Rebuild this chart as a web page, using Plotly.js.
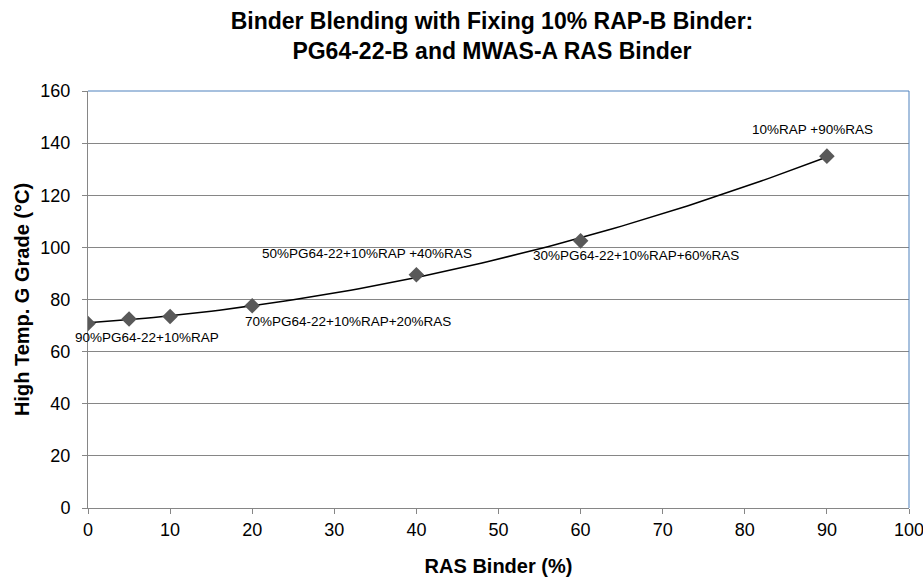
<!DOCTYPE html>
<html><head><meta charset="utf-8">
<script src="https://cdn.plot.ly/plotly-3.0.1.min.js"></script>
<style>html,body{margin:0;padding:0;background:#fff}#c{width:923px;height:581px}</style>
</head><body><div id="c"></div>
<script>
const rasBinder = [0, 5, 10, 20, 40, 60, 90];
const highTempGrade = [70.8, 72.5, 73.5, 77.6, 89.5, 102.5, 135.0];
const labelText = ["90%PG64-22+10%RAP", "70%PG64-22+10%RAP+20%RAS", "50%PG64-22+10%RAP +40%RAS", "30%PG64-22+10%RAP+60%RAS", "10%RAP +90%RAS"];
const labelX = [7.2, 31.7, 34.0, 66.7, 88.2];
const labelY = [65.6, 71.4, 97.5, 96.7, 145.4];
const xTicks = [0,10,20,30,40,50,60,70,80,90,100];
const yTicks = [0,20,40,60,80,100,120,140,160];

// quadratic least-squares trendline from the data
function polyfit2(xs, ys){
  let S=[0,0,0,0,0], T=[0,0,0];
  for(let i=0;i<xs.length;i++){let p=1;for(let k=0;k<5;k++){S[k]+=p;if(k<3)T[k]+=p*ys[i];p*=xs[i];}}
  const A=[[S[0],S[1],S[2],T[0]],[S[1],S[2],S[3],T[1]],[S[2],S[3],S[4],T[2]]];
  for(let i=0;i<3;i++){for(let j=i+1;j<3;j++){const f=A[j][i]/A[i][i];for(let k=i;k<4;k++)A[j][k]-=f*A[i][k];}}
  const c=[0,0,0];
  for(let i=2;i>=0;i--){let s=A[i][3];for(let k=i+1;k<3;k++)s-=A[i][k]*c[k];c[i]=s/A[i][i];}
  return c;
}
const coef = polyfit2(rasBinder, highTempGrade);
const tx=[], ty=[];
for(let i=0;i<=90;i++){tx.push(i);ty.push(coef[0]+coef[1]*i+coef[2]*i*i);}

const font = "Liberation Sans Narrow, Arial Narrow, sans-serif";
const data = [
  {x: tx, y: ty, mode:'lines', line:{color:'#000', width:1.5}, hoverinfo:'skip', showlegend:false},
  {x: rasBinder, y: highTempGrade, mode:'markers', marker:{symbol:'diamond', size:12, color:'#595959'}, showlegend:false}
];
const annotations = labelText.map((t,i)=>({x:labelX[i], y:labelY[i], xref:'x', yref:'y', text:t, showarrow:false, font:{family:font, size:13.5, color:'#000'}}));
const layout = {
  width:923, height:581,
  margin:{l:88, r:14, t:91, b:73},
  paper_bgcolor:'#fff', plot_bgcolor:'#fff',
  title:{text:'<b>Binder Blending with Fixing 10% RAP-B Binder:<br>PG64-22-B and MWAS-A RAS Binder</b>', x:0.533, xanchor:'center', y:0.95, yanchor:'top', font:{family:font, size:23, color:'#000'}},
  xaxis:{range:[0,100], tickvals:xTicks, ticktext:xTicks.map(String), showgrid:false, zeroline:false, showline:true, linecolor:'#868686', linewidth:1, ticks:'outside', ticklen:5, tickcolor:'#868686', ticklabelstandoff:0, ticklabeloverflow:'allow', tickfont:{family:font, size:18, color:'#000'},
    title:{text:'<b>RAS Binder (%)</b>', font:{family:font, size:20, color:'#000'}, standoff:20}},
  yaxis:{range:[0,160], tickvals:yTicks, ticktext:yTicks.map(String), showgrid:true, gridcolor:'#868686', gridwidth:1, zeroline:false, showline:true, linecolor:'#868686', linewidth:1, ticks:'outside', ticklen:5, tickcolor:'#868686', ticklabelstandoff:8, tickfont:{family:font, size:18, color:'#000'},
    title:{text:'<b>High Temp. G Grade (°C)</b>', font:{family:font, size:20, color:'#000'}, standoff:5}},
  shapes:[
    {type:'line', xref:'paper', yref:'paper', x0:0, x1:1, y0:1, y1:1, line:{color:'#4f81bd', width:1}},
    {type:'line', xref:'paper', yref:'paper', x0:1, x1:1, y0:0, y1:1, line:{color:'#4f81bd', width:1}}
  ],
  annotations: annotations
};
Plotly.newPlot('c', data, layout, {displayModeBar:false, staticPlot:true});
</script></body></html>
